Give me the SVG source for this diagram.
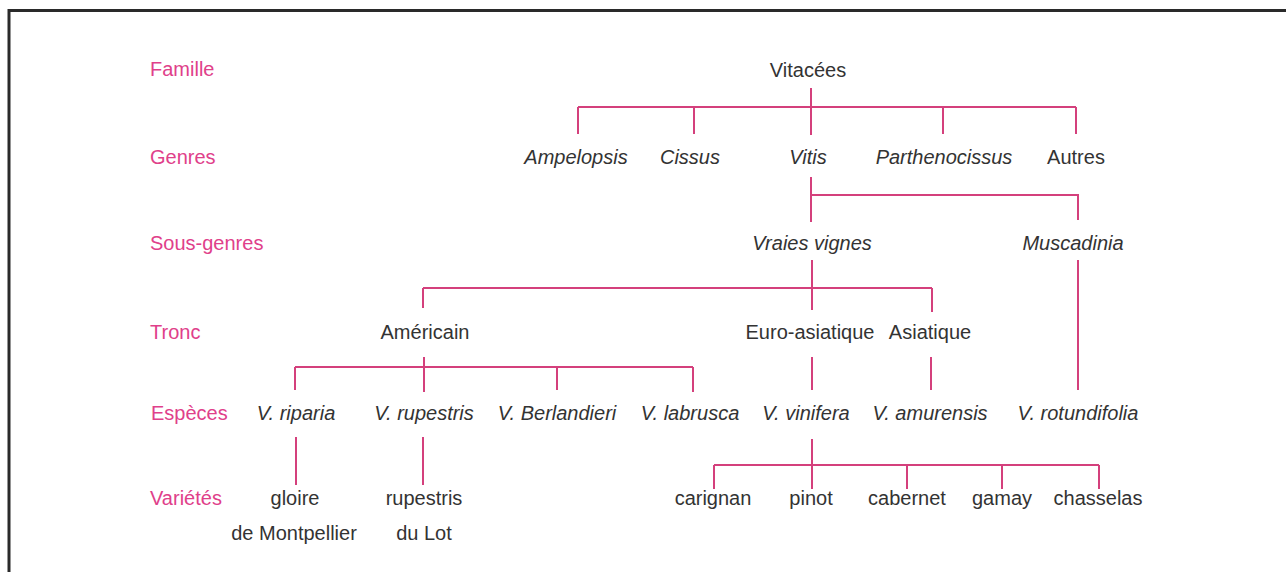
<svg xmlns="http://www.w3.org/2000/svg" width="1286" height="572" viewBox="0 0 1286 572">
<style>
.lbl{font-family:"Liberation Sans",Arial,sans-serif;font-size:20px;fill:#e0408a}
.t{font-family:"Liberation Sans",Arial,sans-serif;font-size:20px;fill:#333;text-anchor:middle}
.i{font-style:italic}
.c{stroke:#d4407c;stroke-width:2;fill:none}
.frame{stroke:#2a2a2a;stroke-width:3;fill:none}
</style>
<rect width="1286" height="572" fill="#fff"/>
<path class="frame" d="M9,572 V10.5 H1286"/>
<g id="labels">
<text class="lbl" x="150" y="76">Famille</text>
<text class="lbl" x="150" y="164">Genres</text>
<text class="lbl" x="150" y="250">Sous-genres</text>
<text class="lbl" x="150" y="339">Tronc</text>
<text class="lbl" x="151" y="420">Espèces</text>
<text class="lbl" x="150" y="505">Variétés</text>
</g>
<g id="connectors">
<path class="c" d="M811,88 V135 M578,107 H1076 M578,107 V134 M694,107 V134 M943,107 V134 M1076,107 V134"/>
<path class="c" d="M811,177 V222 M811,195 H1078 V220"/>
<path class="c" d="M812,260 V310 M423,288 H932 M423,288 V308 M932,288 V312"/>
<path class="c" d="M1078,260 V390"/>
<path class="c" d="M424,357 V392 M295,367 H693 M295,367 V390 M557,367 V390 M693,367 V392"/>
<path class="c" d="M812,357 V390 M931,357 V390"/>
<path class="c" d="M296,437 V485 M423,437 V485"/>
<path class="c" d="M812,439 V489 M714,465 H1099 M714,465 V489 M907,465 V489 M1002,465 V489 M1099,465 V489"/>
</g>
<g id="n-vitacees"><text class="t" x="808" y="77">Vitacées</text></g>
<g id="n-ampelopsis"><text class="t i" x="576" y="164">Ampelopsis</text></g>
<g id="n-cissus"><text class="t i" x="690" y="164">Cissus</text></g>
<g id="n-vitis"><text class="t i" x="808" y="164">Vitis</text></g>
<g id="n-parthenocissus"><text class="t i" x="944" y="164">Parthenocissus</text></g>
<g id="n-autres"><text class="t" x="1076" y="164">Autres</text></g>
<g id="n-vraies"><text class="t i" x="812" y="250">Vraies vignes</text></g>
<g id="n-muscadinia"><text class="t i" x="1073" y="250">Muscadinia</text></g>
<g id="n-americain"><text class="t" x="425" y="339">Américain</text></g>
<g id="n-euro"><text class="t" x="810" y="339">Euro-asiatique</text></g>
<g id="n-asiatique"><text class="t" x="930" y="339">Asiatique</text></g>
<g id="n-riparia"><text class="t i" x="296" y="420">V. riparia</text></g>
<g id="n-rupestris"><text class="t i" x="424" y="420">V. rupestris</text></g>
<g id="n-berlandieri"><text class="t i" x="557" y="420">V. Berlandieri</text></g>
<g id="n-labrusca"><text class="t i" x="690" y="420">V. labrusca</text></g>
<g id="n-vinifera"><text class="t i" x="806" y="420">V. vinifera</text></g>
<g id="n-amurensis"><text class="t i" x="930" y="420">V. amurensis</text></g>
<g id="n-rotundifolia"><text class="t i" x="1078" y="420">V. rotundifolia</text></g>
<g id="n-gloire"><text class="t" x="295" y="505">gloire</text><text class="t" x="294" y="540">de Montpellier</text></g>
<g id="n-rupestrislot"><text class="t" x="424" y="505">rupestris</text><text class="t" x="424" y="540">du Lot</text></g>
<g id="n-carignan"><text class="t" x="713" y="505">carignan</text></g>
<g id="n-pinot"><text class="t" x="811" y="505">pinot</text></g>
<g id="n-cabernet"><text class="t" x="907" y="505">cabernet</text></g>
<g id="n-gamay"><text class="t" x="1002" y="505">gamay</text></g>
<g id="n-chasselas"><text class="t" x="1098" y="505">chasselas</text></g>
</svg>
